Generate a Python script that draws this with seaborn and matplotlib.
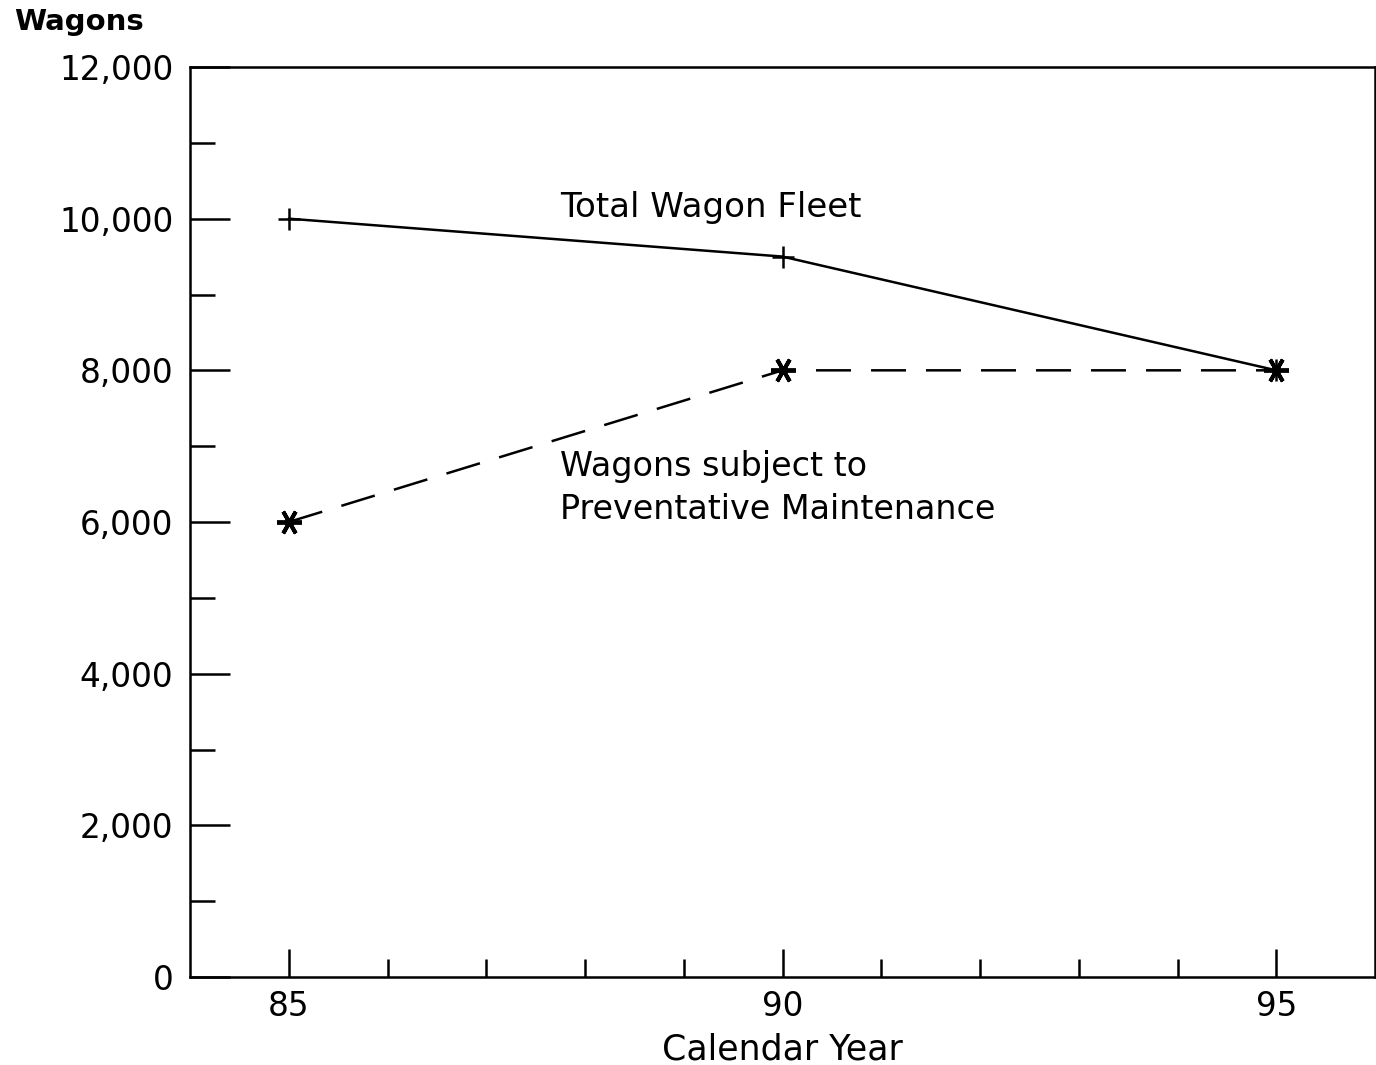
import matplotlib
matplotlib.use("Agg")
import matplotlib.pyplot as plt
import seaborn as sns
import pandas as pd
from matplotlib.ticker import FixedLocator, FuncFormatter

years = [85, 90, 95]
total_fleet = [10000, 9500, 8000]
preventative = [6000, 8000, 8000]
x_major = [85, 90, 95]
x_minor = list(range(85, 96))
y_major = [0, 2000, 4000, 6000, 8000, 10000, 12000]
y_minor = [1000, 3000, 5000, 7000, 9000, 11000]

sns.set_style("ticks")
plt.rcParams['font.family'] = ['DejaVu Sans']
plt.rcParams['text.color'] = 'black'
plt.rcParams['axes.labelcolor'] = 'black'
plt.rcParams['xtick.color'] = 'black'
plt.rcParams['ytick.color'] = 'black'

fig = plt.figure(figsize=(13.76, 10.65), dpi=100)
ax = fig.add_axes([190/1376, 88/1065, (1375-190)/1376, (977-67)/1065])

df_total = pd.DataFrame({"year": years, "wagons": total_fleet})
df_prev = pd.DataFrame({"year": years, "wagons": preventative})

sns.lineplot(data=df_total, x="year", y="wagons", ax=ax, color="black",
             linewidth=1.8, marker="+", markersize=16, markeredgewidth=1.8,
             markeredgecolor="black", markerfacecolor="black")
sns.lineplot(data=df_prev, x="year", y="wagons", ax=ax, color="black",
             linewidth=1.8, linestyle=(0, (14, 8)), marker=(6, 2, 90),
             markersize=18, markeredgewidth=2.8,
             markeredgecolor="black", markerfacecolor="black")

ax.set_xlim(84, 96)
ax.set_ylim(0, 12000)
ax.xaxis.set_major_locator(FixedLocator(x_major))
ax.xaxis.set_minor_locator(FixedLocator(x_minor))
ax.yaxis.set_major_locator(FixedLocator(y_major))
ax.yaxis.set_minor_locator(FixedLocator(y_minor))
ax.yaxis.set_major_formatter(FuncFormatter(lambda v, p: f"{int(v):,}"))
ax.xaxis.set_major_formatter(FuncFormatter(lambda v, p: f"{int(v)}"))

ax.tick_params(axis="x", which="major", direction="in", length=20, width=1.8,
               labelsize=23.5, pad=9, color="black", labelcolor="black")
ax.tick_params(axis="x", which="minor", direction="in", length=13, width=1.8,
               color="black")
ax.tick_params(axis="y", which="major", direction="in", length=29, width=1.8,
               labelsize=23.5, pad=12, color="black", labelcolor="black")
ax.tick_params(axis="y", which="minor", direction="in", length=18, width=1.8,
               color="black")

for s in ax.spines.values():
    s.set_visible(True)
    s.set_linewidth(1.8)
    s.set_color("black")

ax.set_xlabel("Calendar Year", fontsize=25, labelpad=7, color="black")
ax.set_ylabel("")

ax.text(87.75, 10150, "Total Wagon Fleet", fontsize=24.5, va="center", ha="left",
        color="black")
ax.text(87.75, 6730, "Wagons subject to", fontsize=24, va="center", ha="left",
        color="black")
ax.text(87.75, 6160, "Preventative Maintenance", fontsize=24, va="center", ha="left",
        color="black")

fig.text(14/1376, 1 - 22/1065, "Wagons", fontsize=21, fontweight="bold",
         va="center", ha="left", color="black")

fig.savefig("out.png", dpi=100, facecolor="white")
